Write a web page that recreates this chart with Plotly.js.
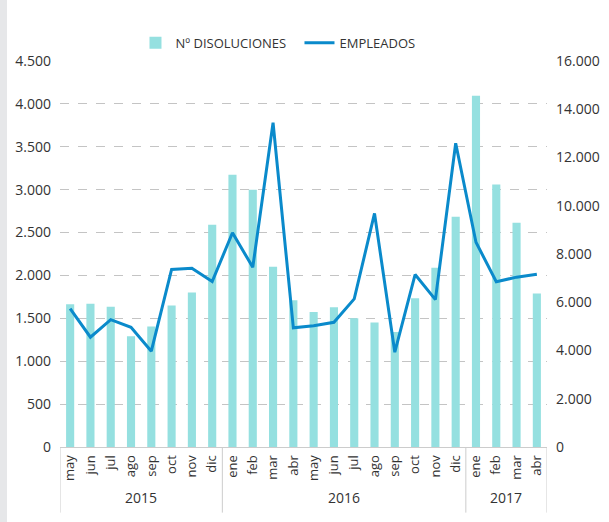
<!DOCTYPE html>
<html>
<head>
<meta charset="utf-8">
<script src="https://cdn.plot.ly/plotly-3.0.1.min.js"></script>
<style>
  html, body { margin: 0; padding: 0; background: #fff; }
  #chart { width: 609px; height: 522px; border-left: 7px solid #e6e7e9; box-sizing: border-box; }
</style>
</head>
<body>
<div id="chart"></div>
<script>
'use strict';

var years = ['2015','2015','2015','2015','2015','2015','2015','2015',
  '2016','2016','2016','2016','2016','2016','2016','2016','2016','2016','2016','2016',
  '2017','2017','2017','2017'];
var months = ['may','jun','jul','ago','sep','oct','nov','dic',
  'ene','feb','mar','abr','may','jun','jul','ago','sep','oct','nov','dic',
  'ene','feb','mar','abr'];

var disoluciones = [1665, 1670, 1635, 1290, 1405, 1650, 1800, 2590,
  3175, 3000, 2100, 1710, 1575, 1630, 1500, 1450, 1340, 1735, 2090, 2685,
  4095, 3060, 2615, 1790];
var empleados = [5740, 4550, 5280, 4960, 3970, 7360, 7410, 6860,
  8880, 7450, 13440, 4940, 5030, 5170, 6140, 9680, 3930, 7150, 6110, 12590,
  8490, 6850, 7040, 7160];

// position index for each month
var idx = months.map(function (m, i) { return i; });

var trace1 = {
  type: 'bar',
  name: 'Nº DISOLUCIONES',
  x: idx,
  y: disoluciones,
  width: 0.4,
  marker: { color: '#95e0e0' },
  yaxis: 'y'
};

var trace2 = {
  type: 'scatter',
  mode: 'lines',
  name: 'EMPLEADOS',
  x: idx,
  y: empleados,
  line: { color: '#0a8acb', width: 3 },
  yaxis: 'y2'
};

// year groups -> dividers and labels
var shapes = [];
var annotations = [];
var start = 0;
for (var i = 1; i <= years.length; i++) {
  if (i === years.length || years[i] !== years[start]) {
    annotations.push({
      x: (start + i - 1) / 2, xref: 'x',
      y: -0.13, yref: 'paper',
      text: years[start], showarrow: false,
      font: { size: 14, color: '#333' },
      yanchor: 'middle'
    });
    if (start === 0) {
      shapes.push({ type: 'line', xref: 'x', yref: 'paper', x0: -0.5, x1: -0.5, y0: 0, y1: -0.17,
        line: { color: '#cccccc', width: 1 } });
    }
    shapes.push({ type: 'line', xref: 'x', yref: 'paper', x0: i - 0.5, x1: i - 0.5, y0: 0, y1: -0.17,
      line: { color: '#cccccc', width: 1 } });
    start = i;
  }
}

var layout = {
  width: 602,
  height: 522,
  margin: { l: 53, r: 62, t: 61, b: 75 },
  separators: ',.',
  font: { family: 'Open Sans, sans-serif', size: 13, color: '#333' },
  paper_bgcolor: 'white',
  plot_bgcolor: 'white',
  showlegend: true,
  legend: {
    orientation: 'h',
    x: 0.155, xanchor: 'left',
    y: 1.047, yanchor: 'middle',
    font: { size: 13, color: '#333' },
    entrywidth: 119,
    entrywidthmode: 'pixels',
    tracegroupgap: 0
  },
  xaxis: {
    range: [-0.5, 23.5],
    tickmode: 'array',
    tickvals: idx,
    ticktext: months,
    tickangle: -90,
    showline: true,
    linecolor: '#cccccc',
    linewidth: 1,
    ticks: '',
    ticklabelstandoff: 2,
    tickfont: { size: 13, color: '#333' },
    showgrid: false,
    zeroline: false
  },
  yaxis: {
    range: [0, 4500],
    dtick: 500,
    tickformat: ',d',
    tickfont: { size: 14, color: '#333' },
    showgrid: true,
    gridcolor: '#c4c4c4',
    griddash: 'dash',
    zeroline: false,
    ticklabelstandoff: 8
  },
  yaxis2: {
    range: [0, 16000],
    dtick: 2000,
    tickformat: ',d',
    tickfont: { size: 14, color: '#333' },
    overlaying: 'y',
    side: 'right',
    showgrid: false,
    zeroline: false,
    ticklabelstandoff: 8
  },
  shapes: shapes,
  annotations: annotations
};

Plotly.newPlot('chart', [trace1, trace2], layout, { displayModeBar: false, staticPlot: true });
</script>
</body>
</html>
